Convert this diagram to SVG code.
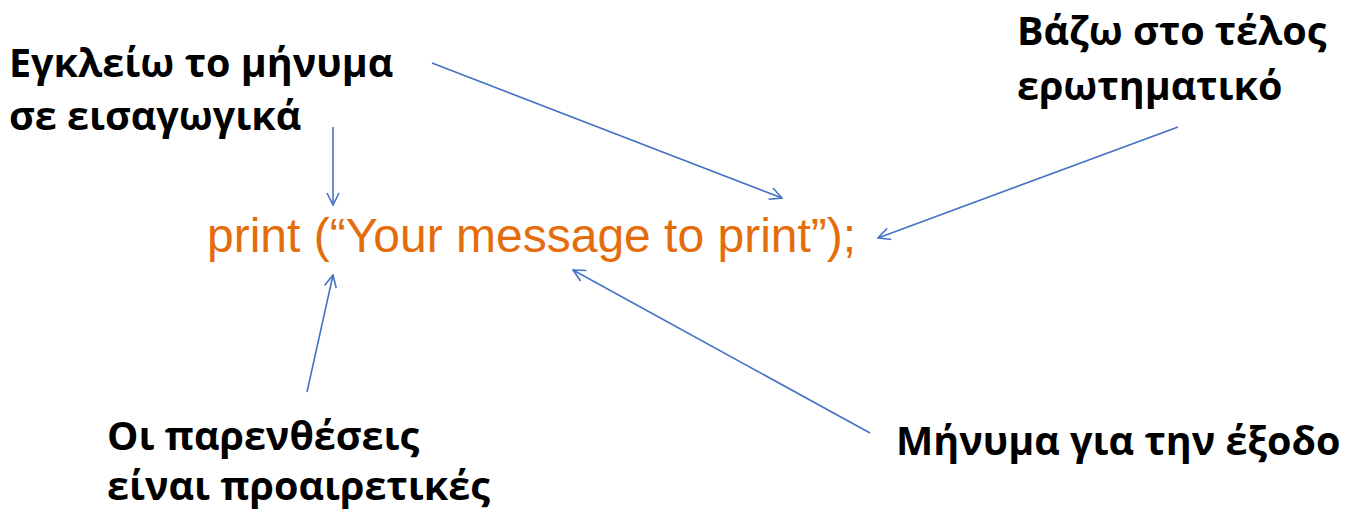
<svg xmlns="http://www.w3.org/2000/svg" width="1354" height="511" viewBox="0 0 1354 511">
<style>
.lbl{font-family:"Open Sans","Noto Sans","DejaVu Sans",sans-serif;font-weight:bold;font-size:39.5px;fill:#000}
.code{font-family:"Liberation Sans",Arial,sans-serif;font-size:48px;fill:#E46C0A}
.conn line{stroke:#4472C4;stroke-width:1.6;fill:none}
</style>
<defs>
<marker id="arr" viewBox="0 0 14 14" refX="13" refY="7" markerWidth="14" markerHeight="14" markerUnits="userSpaceOnUse" orient="auto">
<path d="M1,1 L13,7 L1,13" fill="none" stroke="#4472C4" stroke-width="1.6"/>
</marker>
</defs>
<rect width="1354" height="511" fill="#fff"/>
<g id="code"><text class="code" x="207" y="252">print (“Your message to print”);</text></g>
<g id="n-quotes"><text class="lbl" x="9" y="77">Εγκλείω το μήνυμα</text><text class="lbl" x="9" y="130">σε εισαγωγικά</text></g>
<g id="n-semicolon"><text class="lbl" x="1017" y="45">Βάζω στο τέλος</text><text class="lbl" x="1017" y="100">ερωτηματικό</text></g>
<g id="n-parens"><text class="lbl" x="107" y="450">Οι παρενθέσεις</text><text class="lbl" x="107" y="500">είναι προαιρετικές</text></g>
<g id="n-message"><text class="lbl" x="896" y="455">Μήνυμα για την έξοδο</text></g>
<g id="connectors" class="conn">
<line x1="333" y1="127" x2="333" y2="205" marker-end="url(#arr)"/>
<line x1="432" y1="63" x2="782" y2="198" marker-end="url(#arr)"/>
<line x1="1178" y1="127" x2="878" y2="238" marker-end="url(#arr)"/>
<line x1="307" y1="392" x2="333" y2="275" marker-end="url(#arr)"/>
<line x1="870" y1="433" x2="573" y2="270" marker-end="url(#arr)"/>
</g>
</svg>
